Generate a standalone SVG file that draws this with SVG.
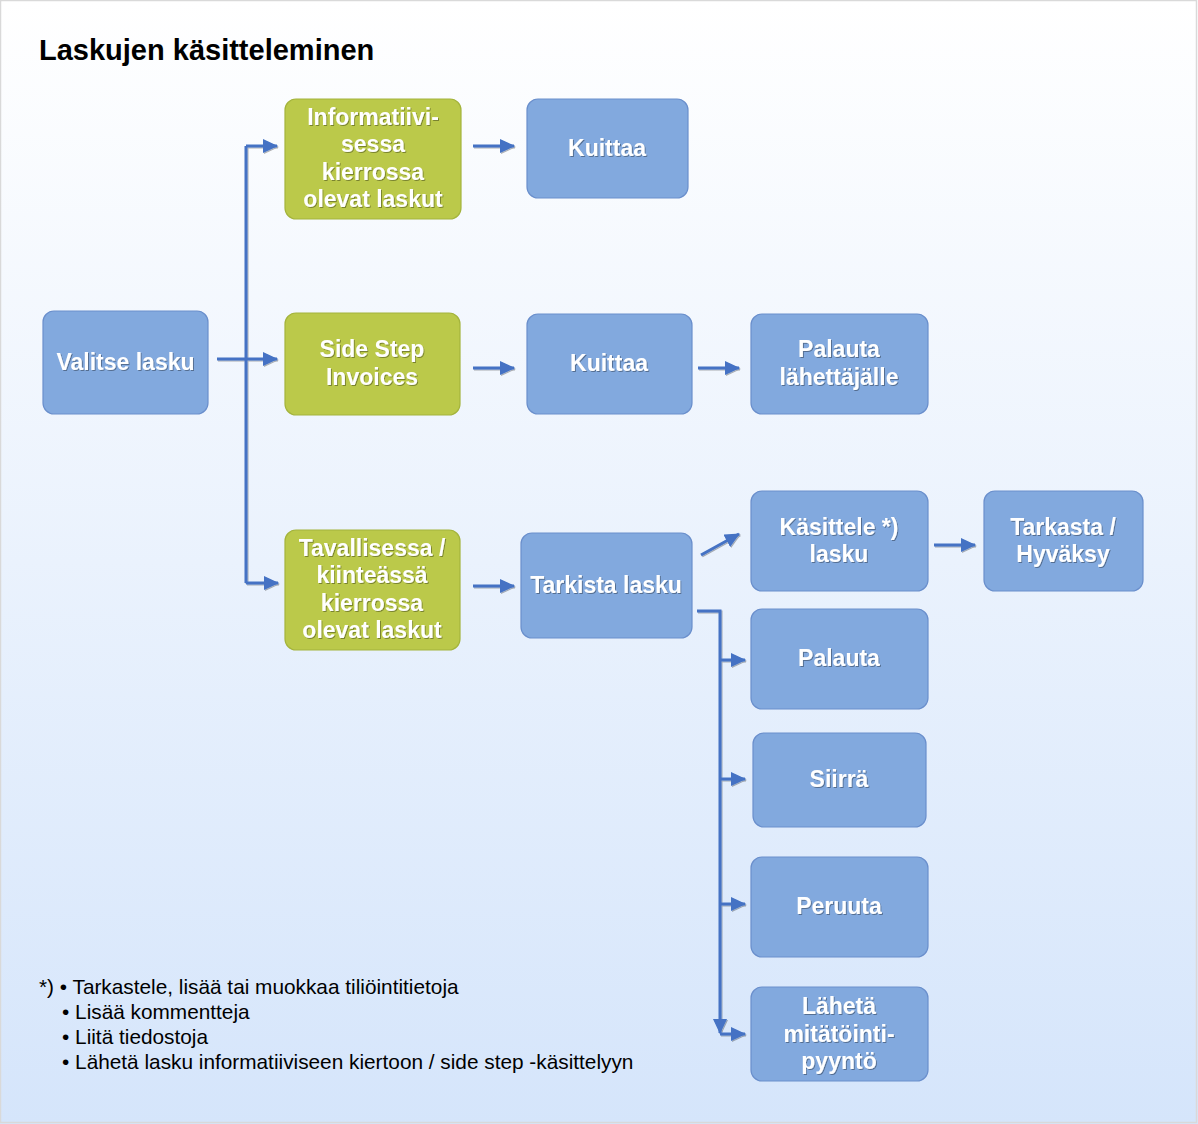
<svg xmlns="http://www.w3.org/2000/svg" width="1198" height="1124" viewBox="0 0 1198 1124">
<defs>
<linearGradient id="bg" x1="0" y1="0" x2="0" y2="1">
<stop offset="0" stop-color="#ffffff"/>
<stop offset="1" stop-color="#d5e5fb"/>
</linearGradient>
<filter id="ts" x="-10%" y="-10%" width="120%" height="130%">
<feDropShadow dx="1" dy="1" stdDeviation="0.6" flood-color="#000" flood-opacity="0.35"/>
</filter>
<filter id="as" x="-20%" y="-20%" width="140%" height="140%">
<feDropShadow dx="1" dy="1" stdDeviation="0.5" flood-color="#000" flood-opacity="0.3"/>
</filter>
<marker id="ah" viewBox="0 0 15 14" refX="14" refY="7" markerWidth="15" markerHeight="14" markerUnits="userSpaceOnUse" orient="auto">
<path d="M0,0 L15,7 L0,14 Z" fill="#4472c4"/>
</marker>
</defs>
<style>
.blue{fill:#82a9de;stroke:#6a8fcc;stroke-width:1.2}
.green{fill:#bbc94a;stroke:#a4b43c;stroke-width:1.2}
.lbl{font-family:"Liberation Sans",Arial,sans-serif;font-weight:bold;font-size:23px;fill:#ffffff;text-anchor:middle;filter:url(#ts)}
.con{fill:none;stroke:#4472c4;stroke-width:3}
.arr{marker-end:url(#ah)}
.note{font-family:"Liberation Sans",Arial,sans-serif;font-size:20.8px;fill:#000000}
</style>
<rect x="0" y="0" width="1198" height="1124" fill="url(#bg)"/>
<rect x="0.5" y="0.5" width="1196" height="1122" fill="none" stroke="#d9d9d9" stroke-width="1.5"/>
<text x="39" y="60" font-family="'Liberation Sans',Arial,sans-serif" font-weight="bold" font-size="29px" fill="#000">Laskujen käsitteleminen</text>

<g id="connectors" filter="url(#as)">
<path class="con" d="M246,583 L246,146"/>
<path class="con arr" d="M246,146 L277,146"/>
<path class="con arr" d="M217,359 L277,359"/>
<path class="con arr" d="M246,583 L278,583"/>
<path class="con arr" d="M473,146 L514,146"/>
<path class="con arr" d="M473,368 L514,368"/>
<path class="con arr" d="M698,368 L739,368"/>
<path class="con arr" d="M473,586 L514,586"/>
<path class="con arr" d="M701,555 L739,534"/>
<path class="con arr" d="M934,545 L975,545"/>
<path class="con arr" d="M697,611 L720,611 L720,1033"/>
<path class="con arr" d="M720,660 L745,660"/>
<path class="con arr" d="M720,779 L745,779"/>
<path class="con arr" d="M720,904 L745,904"/>
<path class="con arr" d="M720,1034 L745,1034"/>
</g>

<g id="valitse">
<rect class="blue" x="43" y="311" width="165" height="103" rx="11"/>
<text class="lbl" x="125.5" y="370">Valitse lasku</text>
</g>
<g id="informatiivi">
<rect class="green" x="285" y="99" width="176" height="120" rx="11"/>
<text class="lbl" x="373" y="125">Informatiivi-</text>
<text class="lbl" x="373" y="152">sessa</text>
<text class="lbl" x="373" y="180">kierrossa</text>
<text class="lbl" x="373" y="207">olevat laskut</text>
</g>
<g id="kuittaa1">
<rect class="blue" x="527" y="99" width="161" height="99" rx="11"/>
<text class="lbl" x="607" y="156">Kuittaa</text>
</g>
<g id="sidestep">
<rect class="green" x="285" y="313" width="175" height="102" rx="11"/>
<text class="lbl" x="372" y="357">Side Step</text>
<text class="lbl" x="372" y="385">Invoices</text>
</g>
<g id="kuittaa2">
<rect class="blue" x="527" y="314" width="165" height="100" rx="11"/>
<text class="lbl" x="609" y="371">Kuittaa</text>
</g>
<g id="palauta-lahettajalle">
<rect class="blue" x="751" y="314" width="177" height="100" rx="11"/>
<text class="lbl" x="839" y="357">Palauta</text>
<text class="lbl" x="839" y="385">lähettäjälle</text>
</g>
<g id="tavallisessa">
<rect class="green" x="285" y="530" width="175" height="120" rx="11"/>
<text class="lbl" x="372" y="556">Tavallisessa /</text>
<text class="lbl" x="372" y="583">kiinteässä</text>
<text class="lbl" x="372" y="611">kierrossa</text>
<text class="lbl" x="372" y="638">olevat laskut</text>
</g>
<g id="tarkista">
<rect class="blue" x="521" y="533" width="171" height="105" rx="11"/>
<text class="lbl" x="606" y="593">Tarkista lasku</text>
</g>
<g id="kasittele">
<rect class="blue" x="751" y="491" width="177" height="100" rx="11"/>
<text class="lbl" x="839" y="535">Käsittele *)</text>
<text class="lbl" x="839" y="562">lasku</text>
</g>
<g id="tarkasta">
<rect class="blue" x="984" y="491" width="159" height="100" rx="11"/>
<text class="lbl" x="1063" y="535">Tarkasta /</text>
<text class="lbl" x="1063" y="562">Hyväksy</text>
</g>
<g id="palauta">
<rect class="blue" x="751" y="609" width="177" height="100" rx="11"/>
<text class="lbl" x="839" y="666">Palauta</text>
</g>
<g id="siirra">
<rect class="blue" x="753" y="733" width="173" height="94" rx="11"/>
<text class="lbl" x="839" y="787">Siirrä</text>
</g>
<g id="peruuta">
<rect class="blue" x="751" y="857" width="177" height="100" rx="11"/>
<text class="lbl" x="839" y="914">Peruuta</text>
</g>
<g id="laheta">
<rect class="blue" x="751" y="987" width="177" height="94" rx="11"/>
<text class="lbl" x="839" y="1014">Lähetä</text>
<text class="lbl" x="839" y="1042">mitätöinti-</text>
<text class="lbl" x="839" y="1069">pyyntö</text>
</g>

<g id="footnote">
<text class="note" x="39" y="994">*) • Tarkastele, lisää tai muokkaa tiliöintitietoja</text>
<text class="note" x="62" y="1019">• Lisää kommentteja</text>
<text class="note" x="62" y="1044">• Liitä tiedostoja</text>
<text class="note" x="62" y="1069">• Lähetä lasku informatiiviseen kiertoon / side step -käsittelyyn</text>
</g>
</svg>
